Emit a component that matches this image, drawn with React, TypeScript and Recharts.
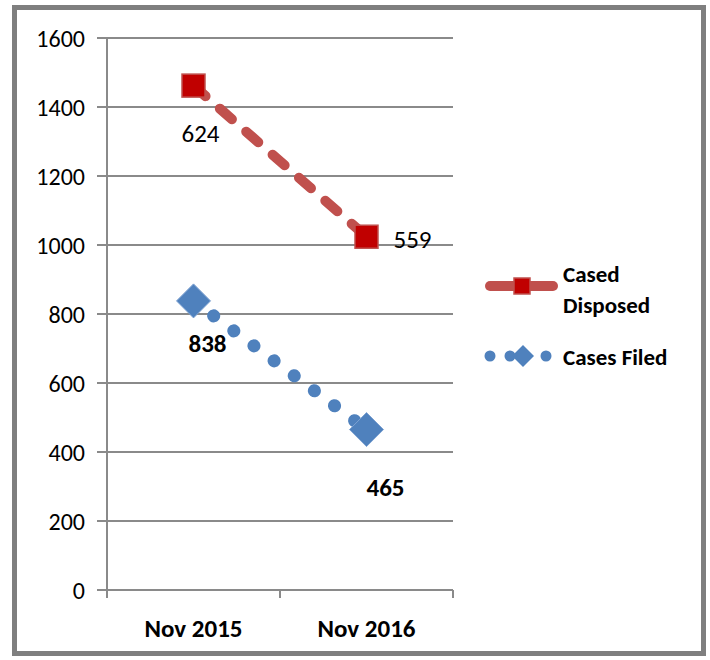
import React from 'react';
import { ComposedChart, Area, XAxis, YAxis, CartesianGrid, LabelList } from 'recharts';

const categories = ['Nov 2015', 'Nov 2016'];
const casesFiled = [838, 465];
const casedDisposed = [624, 559];
const yTicks = [0, 200, 400, 600, 800, 1000, 1200, 1400, 1600];
const legendNames = ['Cased Disposed', 'Cases Filed'];

const data = categories.map((name, i) => ({
 name,
 filed: casesFiled[i],
 disposed: casedDisposed[i],
}));

const FONT = 'Carlito, Calibri, Lato, sans-serif';
const GRID = '#8a8a8a';
const RED_LINE = '#C0504D';
const RED_MARK = '#C00000';
const BLUE = '#4F81BD';
const TICK_GAP = 29;

const SquareDot = (props: any) => {
 const { cx, cy, index } = props;
 if (cx == null || cy == null) return null;
 const s = 23;
 return (
  <rect key={`sq-${index}`} x={cx - s / 2} y={cy - s / 2} width={s} height={s}
   fill={RED_MARK} stroke={RED_LINE} strokeWidth={1.5} />
 );
};

const DiamondDot = (props: any) => {
 const { cx, cy, index } = props;
 if (cx == null || cy == null) return null;
 const r = 17;
 return (
  <path key={`dm-${index}`}
   d={`M${cx},${cy - r} L${cx + r},${cy} L${cx},${cy + r} L${cx - r},${cy} Z`}
   fill={BLUE} stroke="#7DA2D2" strokeWidth={1} />
 );
};

// label offsets mimic Excel's placement in the source chart
const disposedLabel = (p: any) => {
 const off = p.index === 0 ? [7, 48] : [46, 3];
 return (
  <text key={`dl-${p.index}`} x={p.x + off[0]} y={p.y + off[1]} textAnchor="middle"
   dominantBaseline="central" fontFamily={FONT} fontSize={25} fill="#000">
   {casedDisposed[p.index]}
  </text>
 );
};

const filedLabel = (p: any) => {
 const off = p.index === 0 ? [14, 43] : [19, 58];
 return (
  <text key={`fl-${p.index}`} x={p.x + off[0]} y={p.y + off[1]} textAnchor="middle"
   dominantBaseline="central" fontFamily={FONT} fontSize={25} fontWeight={700} fill="#000">
   {casesFiled[p.index]}
  </text>
 );
};

// category label plus Excel-style tick marks between the categories
const CategoryTick = (props: any) => {
 const { x, y, payload, index } = props;
 const half = payload?.offset ?? 0;
 const axisY = y - TICK_GAP;
 return (
  <g>
   {index === 0 && half > 0 && (
    <line x1={x - half} y1={axisY} x2={x - half} y2={axisY + 8} stroke={GRID} strokeWidth={2} />
   )}
   {half > 0 && (
    <line x1={x + half} y1={axisY} x2={x + half} y2={axisY + 8} stroke={GRID} strokeWidth={2} />
   )}
   <text x={x} y={y} dy="0.71em" textAnchor="middle" fontFamily={FONT} fontSize={25}
    fontWeight={700} fill="#000">
    {payload.value}
   </text>
  </g>
 );
};

const wrapName = (name: string) => (name.length > 11 ? name.split(' ') : [name]);

const LegendBox = () => (
 <svg width={710} height={660} style={{ position: 'absolute', left: 0, top: 0, pointerEvents: 'none' }}>
  <line x1={490} y1={286} x2={553} y2={286} stroke={RED_LINE} strokeWidth={10} strokeLinecap="round" />
  <rect x={514} y={278} width={16} height={16} fill={RED_MARK} stroke={RED_LINE} strokeWidth={1.5} />
  <text x={563} y={274} fontFamily={FONT} fontSize={23} fontWeight={700} dominantBaseline="central">
   {wrapName(legendNames[0]).map((w, i) => (
    <tspan key={w} x={563} dy={i === 0 ? 0 : 31}>{w}</tspan>
   ))}
  </text>
  {[490, 510, 546].map((x) => (
   <circle key={x} cx={x} cy={356} r={5.5} fill={BLUE} />
  ))}
  <path d="M523,345 L534,356 L523,367 L512,356 Z" fill={BLUE} />
  <text x={563} y={357} fontFamily={FONT} fontSize={23} fontWeight={700} dominantBaseline="central">
   {legendNames[1]}
  </text>
 </svg>
);

export default function App() {
 return (
  <div style={{ position: 'absolute', left: 0, top: 0, width: 710, height: 660, background: '#fff' }}>
   <div style={{
    position: 'absolute', left: 12, top: 5, width: 694, height: 651,
    border: '5px solid #7f7f7f', boxSizing: 'border-box',
   }} />
   <div style={{ position: 'absolute', left: 0, top: 0 }}>
    <ComposedChart width={710} height={660} data={data}
     margin={{ top: 38, right: 257, bottom: 0, left: 0 }}>
     <CartesianGrid vertical={false} stroke={GRID} strokeWidth={2} />
     <XAxis dataKey="name" scale="band" height={70} tickLine={false}
      tickSize={0} tickMargin={TICK_GAP} axisLine={{ stroke: GRID, strokeWidth: 2 }}
      tick={<CategoryTick />} interval={0} />
     <YAxis domain={[0, 1600]} ticks={yTicks} width={107} tickSize={10} tickMargin={12}
      axisLine={{ stroke: GRID, strokeWidth: 2 }} tickLine={{ stroke: GRID, strokeWidth: 2 }}
      tick={{ fontFamily: FONT, fontSize: 24, fill: '#000' }} interval={0} />
     <Area type="linear" dataKey="filed" stackId="s" fill="none" fillOpacity={0}
      stroke={BLUE} strokeWidth={13} strokeDasharray="0.1 25" strokeLinecap="round"
      dot={DiamondDot} activeDot={false} isAnimationActive={false}>
      <LabelList dataKey="filed" content={filedLabel} />
     </Area>
     <Area type="linear" dataKey="disposed" stackId="s" fill="none" fillOpacity={0}
      stroke={RED_LINE} strokeWidth={10} strokeDasharray="16 19" strokeLinecap="round"
      dot={SquareDot} activeDot={false} isAnimationActive={false}>
      <LabelList dataKey="disposed" content={disposedLabel} />
     </Area>
    </ComposedChart>
   </div>
   <LegendBox />
  </div>
 );
}
